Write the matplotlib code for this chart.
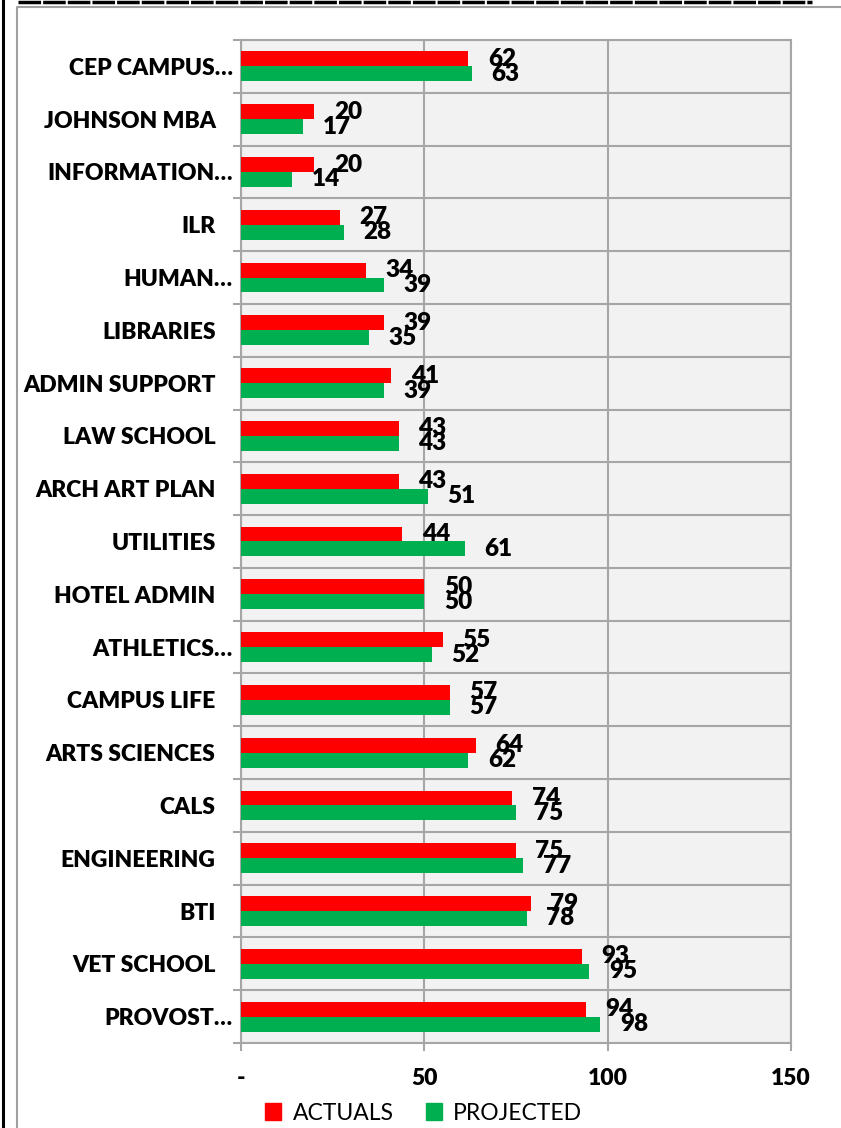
import matplotlib.pyplot as plt
import matplotlib.transforms as mtransforms
from matplotlib.lines import Line2D
from matplotlib.patches import Patch
import numpy as np

plt.rcParams['font.family'] = ['Lato', 'DejaVu Sans']

# categories, top to bottom as shown
categories = ['CEP CAMPUS…', 'JOHNSON MBA', 'INFORMATION…', 'ILR', 'HUMAN…',
              'LIBRARIES', 'ADMIN SUPPORT', 'LAW SCHOOL', 'ARCH ART PLAN',
              'UTILITIES', 'HOTEL ADMIN', 'ATHLETICS…', 'CAMPUS LIFE',
              'ARTS SCIENCES', 'CALS', 'ENGINEERING', 'BTI', 'VET SCHOOL',
              'PROVOST…']
actuals = [62, 20, 20, 27, 34, 39, 41, 43, 43, 44, 50, 55, 57, 64, 74, 75, 79, 93, 94]
projected = [63, 17, 14, 28, 39, 35, 39, 43, 51, 61, 50, 52, 57, 62, 75, 77, 78, 95, 98]
xticks = [0, 50, 100, 150]
xticklabels = ['-', '50', '100', '150']

RED = '#FF0000'
GREEN = '#00B050'
GRID = '#A6A6A6'

fig = plt.figure(figsize=(8.41, 11.28), dpi=100)
ax = fig.add_axes([241/841, 1 - 1043/1128, 550/841, 1003/1128])
ax.set_facecolor('#F2F2F2')

n = len(categories)
y = np.arange(n)
h = 0.283
ax.barh(y - h/2, actuals, height=h, color=RED, zorder=3)
ax.barh(y + h/2, projected, height=h, color=GREEN, zorder=3)

# value labels
for i in range(n):
    ax.annotate(str(actuals[i]), (actuals[i], y[i] - h/2), xytext=(14, 0),
                textcoords='offset points', ha='left', va='center',
                fontsize=17.5, fontweight='heavy', zorder=4)
    ax.annotate(str(projected[i]), (projected[i], y[i] + h/2), xytext=(14, 0),
                textcoords='offset points', ha='left', va='center',
                fontsize=17.5, fontweight='heavy', zorder=4)

ax.set_xlim(0, 150)
ax.set_ylim(n - 0.5, -0.5)

ax.set_xticks(xticks)
ax.set_xticklabels(xticklabels, fontsize=16.5, fontweight='heavy')
ax.set_yticks(y)
ax.set_yticklabels(categories, fontsize=16.5, fontweight='heavy')
ax.set_yticks(np.arange(n + 1) - 0.5, minor=True)

ax.tick_params(axis='x', which='major', length=6, width=1.5, color=GRID, pad=12)
ax.tick_params(axis='y', which='major', length=0, pad=6)
ax.tick_params(axis='y', which='minor', length=6, width=1.5, color=GRID)

# labels that fit without ellipsis sit further left
for lab, name in zip(ax.get_yticklabels(), categories):
    if not name.endswith('…'):
        off = mtransforms.ScaledTranslation(-17/100, 0, fig.dpi_scale_trans)
        lab.set_transform(lab.get_transform() + off)

ax.grid(True, axis='x', which='major', color=GRID, lw=1.5, zorder=0)
ax.grid(True, axis='y', which='minor', color=GRID, lw=1.5, zorder=0)
ax.set_axisbelow(True)
for s in ax.spines.values():
    s.set_color(GRID)
    s.set_linewidth(1.5)

handles = [Patch(color=RED), Patch(color=GREEN)]
fig.legend(handles, ['ACTUALS', 'PROJECTED'], loc='center',
           bbox_to_anchor=(0.504, 1 - 1113/1128), ncol=2, frameon=False,
           fontsize=16.5, handlelength=0.7, handleheight=0.7,
           columnspacing=1.4, handletextpad=0.5)

# page frame lines
fig.add_artist(Line2D([3/841, 3/841], [0, 1], color='black', lw=2.2,
                      transform=fig.transFigure))
fig.add_artist(Line2D([18/841, 812/841], [1 - 2/1128, 1 - 2/1128], color='black',
                      lw=2.5, dashes=(6.5, 0.6), transform=fig.transFigure))
fig.add_artist(Line2D([17/841, 17/841, 1], [0, 1 - 7/1128, 1 - 7/1128],
                      color='#A0A0A0', lw=1.5, transform=fig.transFigure))

fig.savefig('out.png', dpi=100)
